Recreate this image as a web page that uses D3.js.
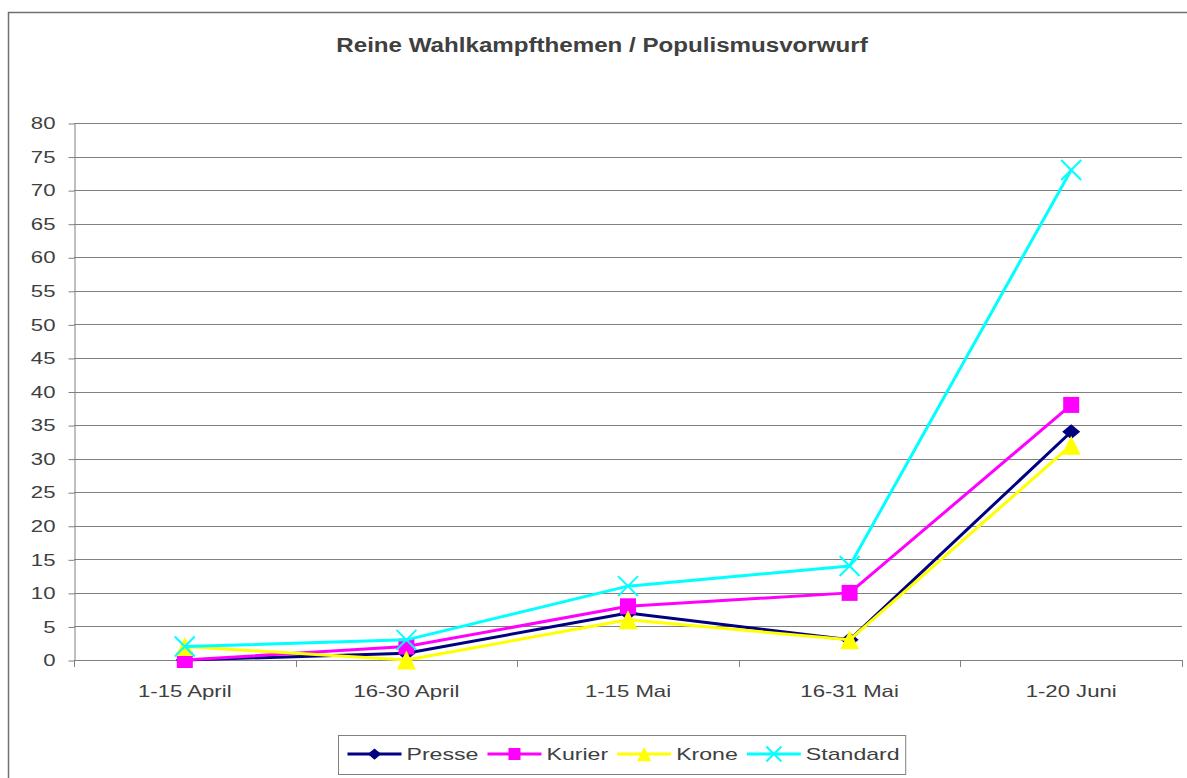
<!DOCTYPE html>
<html><head><meta charset="utf-8">
<script src="https://cdn.jsdelivr.net/npm/d3@7"></script>
<style>
body{margin:0;background:#fff;overflow:hidden}
text{font-family:"Liberation Sans",Arial,sans-serif;fill:#404040}
</style>
</head><body><svg id="c" width="1187" height="778"></svg>
<script>
const chartTitle = "Reine Wahlkampfthemen / Populismusvorwurf";
const categories = ["1-15 April","16-30 April","1-15 Mai","16-31 Mai","1-20 Juni"];
const presse   = [0, 1, 7, 3, 34];
const kurier   = [0, 2, 8, 10, 38];
const krone    = [2, 0, 6, 3, 32];
const standard = [2, 3, 11, 14, 73];
const yTicks = [0,5,10,15,20,25,30,35,40,45,50,55,60,65,70,75,80];
const seriesNames = ["Presse","Kurier","Krone","Standard"];
const seriesColors = ["#000080","#FF00FF","#FFFF00","#00FFFF"];
const seriesMarkers = ["diamond","square","triangle","x"];
const seriesValues = [presse, kurier, krone, standard];

const svg = d3.select("#c");
const L = 74, R = 1182, T = 123, B = 660;
const x = d3.scaleBand().domain(categories).range([L, R]);
const y = d3.scaleLinear().domain([0, 80]).range([B, T]);
const gridCol = "#808080";
const SX = 1.36; // horizontal stretch of the original text rendering

function stretch(sel, k) {
  sel.each(function() {
    const t = d3.select(this);
    const tx = +t.attr("x") || 0, ty = +t.attr("y") || 0;
    t.attr("x", tx / k).attr("y", ty).attr("transform", `scale(${k},1)`);
  });
}

// outer frame
svg.append("rect").attr("x", 8.5).attr("y", 12.5).attr("width", 1300).attr("height", 900)
  .attr("fill", "none").attr("stroke", "#707070").attr("stroke-width", 1.5);

// title
const tt = svg.append("text").attr("x", 0).attr("y", 0)
  .attr("text-anchor", "middle").attr("font-size", 21).attr("font-weight", "bold")
  .attr("transform", `translate(602,52) scale(1.15,1)`).text(chartTitle);

// gridlines
svg.append("g").selectAll("line").data(yTicks.filter(v => v > 0)).join("line")
  .attr("x1", L).attr("x2", R).attr("y1", d => Math.round(y(d)) + 0.5).attr("y2", d => Math.round(y(d)) + 0.5)
  .attr("stroke", gridCol).attr("stroke-width", 1);

// y axis
const yAxis = svg.append("g").attr("transform", `translate(${L + 0.5},0.5)`)
  .call(d3.axisLeft(y).tickValues(yTicks).tickSize(6).tickSizeOuter(0).tickPadding(13));
yAxis.select(".domain").attr("stroke", gridCol);
yAxis.selectAll(".tick line").attr("stroke", gridCol);
yAxis.selectAll(".tick text").attr("font-size", 16.3).attr("fill", "#404040")
  .attr("font-family", '"Liberation Sans",Arial,sans-serif');
stretch(yAxis.selectAll(".tick text"), SX);

// x axis line + boundary ticks
svg.append("line").attr("x1", L).attr("x2", R).attr("y1", B + 0.5).attr("y2", B + 0.5).attr("stroke", gridCol);
const bounds = categories.map(c => x(c)).concat([x.range()[1]]);
svg.append("g").selectAll("line").data(bounds).join("line")
  .attr("x1", d => Math.round(d) + 0.5).attr("x2", d => Math.round(d) + 0.5)
  .attr("y1", B).attr("y2", B + 7).attr("stroke", gridCol);

const xAxis = svg.append("g").attr("transform", `translate(0,${B})`)
  .call(d3.axisBottom(x).tickSize(0).tickPadding(25));
xAxis.select(".domain").remove();
xAxis.selectAll(".tick text").attr("font-size", 16.3).attr("fill", "#404040")
  .attr("font-family", '"Liberation Sans",Arial,sans-serif');
stretch(xAxis.selectAll(".tick text"), SX);

// markers
function marker(g, type, color, s) {
  if (type === "diamond") {
    g.append("path").attr("d", `M0,${-7.5*s}L${9*s},0L0,${7.5*s}L${-9*s},0Z`).attr("fill", color);
  } else if (type === "square") {
    g.append("rect").attr("x", -8*s).attr("y", -8*s).attr("width", 16*s).attr("height", 16*s).attr("fill", color);
  } else if (type === "triangle") {
    g.append("path").attr("d", `M0,${-9.5*s}L${9.5*s},${9.5*s}L${-9.5*s},${9.5*s}Z`).attr("fill", color);
  } else if (type === "x") {
    g.append("path").attr("d", `M${-10*s},${-10*s}L${10*s},${10*s}M${10*s},${-10*s}L${-10*s},${10*s}`)
      .attr("stroke", color).attr("stroke-width", 2).attr("fill", "none");
  }
}

const cx = c => x(c) + x.bandwidth() / 2;
const line = d3.line().x((d, i) => cx(categories[i])).y(d => y(d));

seriesValues.forEach((vals, si) => {
  const g = svg.append("g");
  g.append("path").datum(vals).attr("d", line).attr("fill", "none")
    .attr("stroke", seriesColors[si]).attr("stroke-width", 3).attr("stroke-linejoin", "round");
  vals.forEach((v, i) => {
    const mg = g.append("g").attr("transform", `translate(${cx(categories[i])},${y(v)})`);
    marker(mg, seriesMarkers[si], seriesColors[si], 1);
  });
});

// legend
const lg = svg.append("g");
const legBox = lg.append("rect").attr("x", 338.5).attr("y", 735.5).attr("height", 39)
  .attr("fill", "#fff").attr("stroke", "#808080").attr("stroke-width", 1);
let lx = 347.5;
const ly = 754;
seriesNames.forEach((name, si) => {
  lg.append("line").attr("x1", lx).attr("x2", lx + 54).attr("y1", ly).attr("y2", ly)
    .attr("stroke", seriesColors[si]).attr("stroke-width", 3);
  const mg = lg.append("g").attr("transform", `translate(${lx + 27},${ly})`);
  marker(mg, seriesMarkers[si], seriesColors[si], 0.75);
  const t = lg.append("text").attr("x", lx + 59).attr("y", ly + 6).attr("font-size", 17).text(name);
  const w = t.node().getComputedTextLength() * SX;
  stretch(t, SX);
  lx = lx + 59 + w + 9;
});
legBox.attr("width", lx - 338.5 - 3);
</script>
</body></html>
